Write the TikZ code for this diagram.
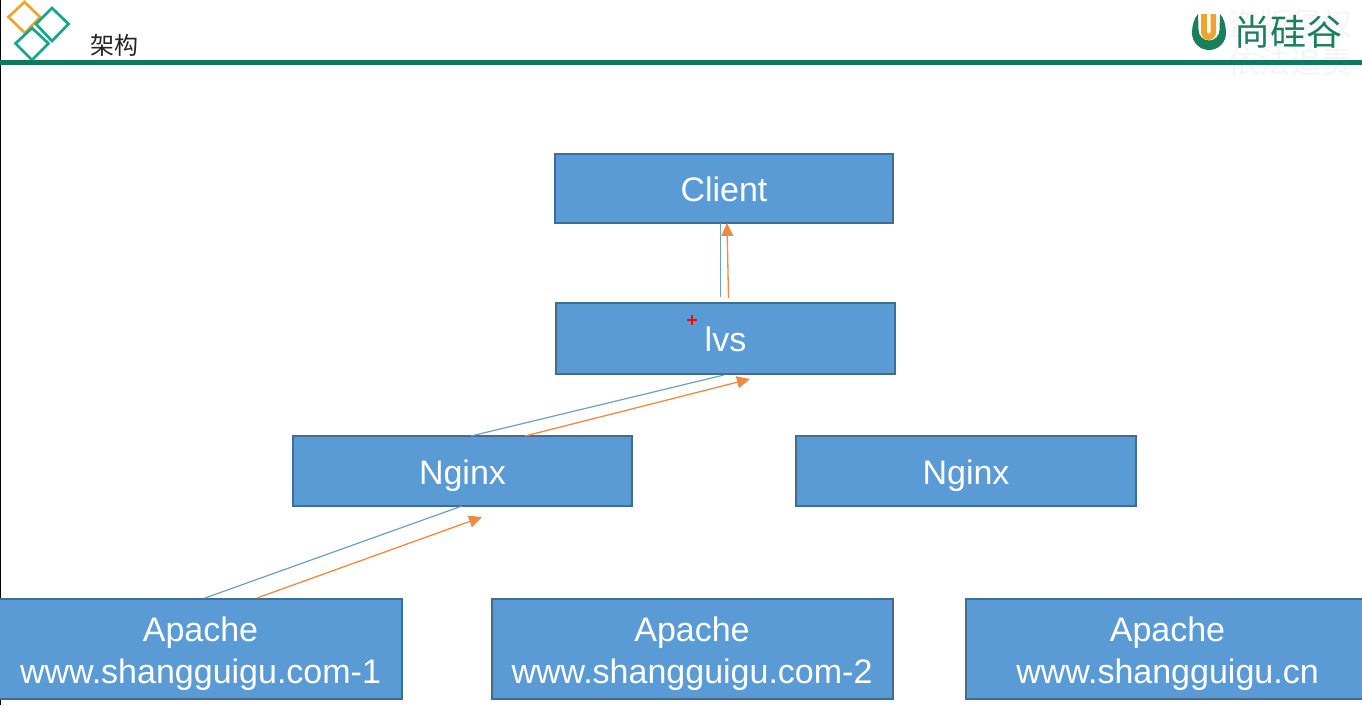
\documentclass[tikz,border=0pt]{standalone}
\usepackage{fontspec}
\setmainfont{Liberation Sans}
\newfontfamily\cjk{Noto Sans CJK SC}
\usetikzlibrary{arrows.meta}
\definecolor{boxfill}{HTML}{5B9BD5}
\definecolor{boxline}{HTML}{3F6D96}
\definecolor{barteal}{HTML}{12775F}
\definecolor{diamondteal}{HTML}{1AA58A}
\definecolor{diamondgold}{HTML}{EDA62B}
\definecolor{arrorange}{HTML}{ED8B45}
\definecolor{arrblue}{HTML}{6FA0BE}
\definecolor{logogreen}{HTML}{1B7F5C}
\newcommand\oneline[1]{\raisebox{-13pt}[0pt][0pt]{#1}}
\newcommand\twoline[1]{\raisebox{-5.5pt}[\height][\depth]{#1}}
\tikzset{
  box/.style={draw=boxline,line width=2pt,fill=boxfill,text=white,inner sep=0pt,align=center,
    font=\fontsize{34}{42}\selectfont},
  plain/.style={draw=arrblue,line width=1.2pt},
  arrowed/.style={draw=arrorange,line width=1.3pt},
  tip/.style={-{Triangle[length=13pt,width=12pt,fill=arrorange]}},
  dmd/.style={line width=2.7pt,fill=none,miter limit=2},
}
\begin{document}
\begin{tikzpicture}[x=1pt,y=-1pt]
\useasboundingbox (0,0) rectangle (1362,705);
\fill[white] (0,0) rectangle (1362,705);
\draw[black,line width=1.2pt] (0.5,0) -- (0.5,705);
% watermark
\node[font=\cjk\fontsize{31}{31}\selectfont,text=black!4] (wm1) at (1290,24) {盗版侵权};
\node[font=\cjk\fontsize{31}{31}\selectfont,text=black!4] (wm2) at (1290,62) {依法追责};
% header
\draw[dmd,diamondgold] (24.5,2) -- (40,17) -- (25,33) -- (8.5,17) -- cycle;
\draw[dmd,diamondteal] (52,8) -- (68.5,24) -- (52,41) -- (36,24) -- cycle;
\draw[dmd,diamondteal] (32,28) -- (48.5,43.5) -- (32,60) -- (15.5,43.5) -- cycle;
\node[font=\cjk\fontsize{24}{24}\selectfont,text=black!85,anchor=center] (title) at (114,45) {架构};
\fill[barteal] (0,60) rectangle (1362,64.5);
% logo
\fill[logogreen] (1198,14) .. controls (1194,18) and (1192,26) .. (1192,33)
  arc[start angle=180,end angle=0,radius=17]
  .. controls (1226,26) and (1224,18) .. (1220,14) -- (1219.5,30)
  arc[start angle=0,end angle=180,radius=10.5] -- cycle;
\fill[diamondgold] (1201,14) -- (1216,14) -- (1216,32.5)
  arc[start angle=0,end angle=180,radius=7.5] -- cycle;
\fill[white] (1207,14) -- (1210.5,14) -- (1210.5,32) arc[start angle=0,end angle=180,radius=1.75] -- cycle;
\node[font=\cjk\fontsize{36}{36}\selectfont,text=logogreen,anchor=center] (logo) at (1288.5,32) {尚硅谷};
% boxes
\node[box,minimum width=338pt,minimum height=69pt] (client) at (724,188) {\oneline{Client}};
\node[box,minimum width=339pt,minimum height=71pt] (lvs) at (725.5,338.5) {\oneline{lvs}};
\node[box,minimum width=339pt,minimum height=70pt] (nginxa) at (462.5,471) {\oneline{Nginx}};
\node[box,minimum width=340pt,minimum height=70pt] (nginxb) at (966,471) {\oneline{Nginx}};
\node[box,minimum width=403pt,minimum height=100pt] (apa) at (200.5,648.5) {\twoline{Apache}\\\twoline{www.shangguigu.com-1}};
\node[box,minimum width=401pt,minimum height=100pt] (apb) at (692,648.5) {\twoline{Apache}\\\twoline{www.shangguigu.com-2}};
\node[box,minimum width=403pt,minimum height=100pt] (apc) at (1167.5,648.5) {\twoline{Apache}\\\twoline{www.shangguigu.cn}};
% connector ends
\coordinate (c1) at (720.5,223);
\coordinate (l1) at (720.5,297);
\coordinate (c2) at (727,223);
\coordinate (l2) at (728.5,298);
\coordinate (l3) at (724,375);
\coordinate (n1) at (471,436);
\coordinate (l4) at (750,379);
\coordinate (n2) at (525,436);
\coordinate (n3) at (462,506);
\coordinate (a1) at (205,598);
\coordinate (n4) at (482,517);
\coordinate (a2) at (257,598);
\draw[plain] (l1) -- (c1);
\draw[arrowed,tip] (l2) -- (c2);
\draw[plain] (n1) -- (l3);
\draw[arrowed,tip] (n2) -- (l4);
\draw[plain] (a1) -- (n3);
\draw[arrowed,tip] (a2) -- (n4);
% pointer mark
\draw[red,line width=2pt] (687,319.5) -- (697,319.5) (692,315) -- (692,324.5);
\end{tikzpicture}
\end{document}
